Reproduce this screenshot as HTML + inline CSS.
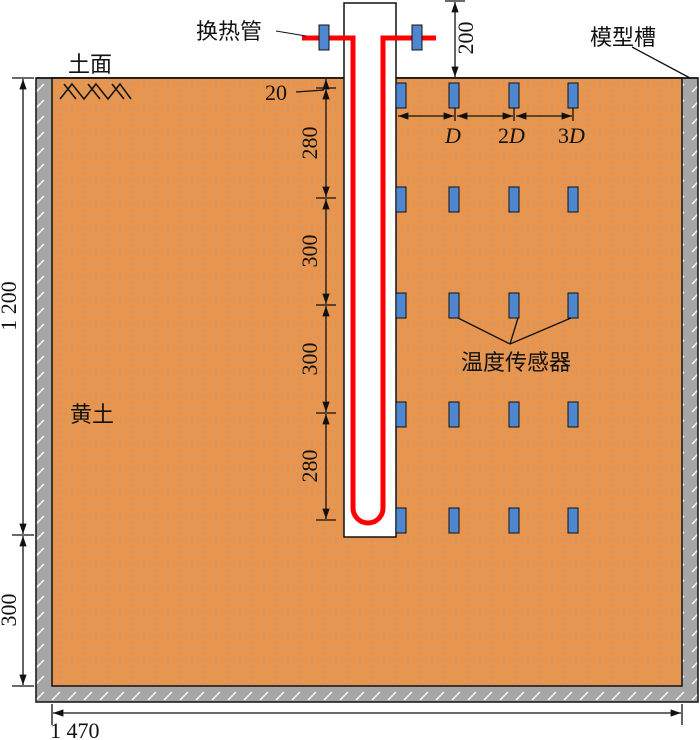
<!DOCTYPE html>
<html><head><meta charset="utf-8"><style>body{margin:0;background:#fff}svg{display:block}text{font-family:"Liberation Serif","Noto Serif CJK SC",serif;fill:#111}.cj{font-family:"Liberation Serif","Noto Sans CJK SC",sans-serif}</style></head><body>
<svg width="700" height="740" viewBox="0 0 700 740" xmlns="http://www.w3.org/2000/svg">
<defs>
<pattern id="dots" width="6" height="6" patternUnits="userSpaceOnUse"><rect width="6" height="6" fill="#E8944C"/><circle cx="3" cy="3" r="0.9" fill="#B8A890"/></pattern>
<pattern id="hatch" width="16" height="16" patternUnits="userSpaceOnUse"><rect width="16" height="16" fill="#A6A6A6"/><path d="M4 12 L12 4" stroke="#fff" stroke-width="1.5"/></pattern>
<marker id="a" viewBox="0 0 10 10" refX="10" refY="5" markerWidth="8" markerHeight="8" orient="auto-start-reverse"><path d="M0 1.5 L10 5 L0 8.5z" fill="#111"/></marker>
</defs>
<rect x="36" y="78" width="662" height="624" fill="url(#hatch)" stroke="#111" stroke-width="1.5"/>
<rect x="52" y="78" width="630" height="608" fill="url(#dots)" stroke="#111" stroke-width="1.5"/>
<line x1="36" y1="78" x2="698" y2="78" stroke="#111" stroke-width="1.5"/>
<rect x="344" y="3" width="52" height="534" fill="#fff" stroke="#111" stroke-width="1.5"/>
<path d="M302 38 H353 V508 A15 15 0 0 0 383 508 V38 H436" fill="none" stroke="#f00" stroke-width="5"/>
<rect x="319" y="25" width="10" height="25" fill="#4F86D0" stroke="#111"/>
<rect x="412" y="25" width="10" height="25" fill="#4F86D0" stroke="#111"/>
<line x1="276" y1="31" x2="306" y2="36" stroke="#111"/>
<text x="196" y="39" class="cj" font-size="22">换热管</text>
<g fill="#4F86D0" stroke="#111">
<rect x="396" y="83" width="10" height="25"/><rect x="449" y="83" width="10" height="25"/><rect x="509" y="83" width="10" height="25"/><rect x="568" y="83" width="10" height="25"/>
<rect x="396" y="187" width="10" height="25"/><rect x="449" y="187" width="10" height="25"/><rect x="509" y="187" width="10" height="25"/><rect x="568" y="187" width="10" height="25"/>
<rect x="396" y="293" width="10" height="25"/><rect x="449" y="293" width="10" height="25"/><rect x="509" y="293" width="10" height="25"/><rect x="568" y="293" width="10" height="25"/>
<rect x="396" y="402" width="10" height="25"/><rect x="449" y="402" width="10" height="25"/><rect x="509" y="402" width="10" height="25"/><rect x="568" y="402" width="10" height="25"/>
<rect x="396" y="508" width="10" height="25"/><rect x="449" y="508" width="10" height="25"/><rect x="509" y="508" width="10" height="25"/><rect x="568" y="508" width="10" height="25"/>
</g>
<g stroke="#111" fill="none" stroke-width="1.3">
<line x1="455" y1="108" x2="455" y2="121"/><line x1="514" y1="108" x2="514" y2="121"/><line x1="573" y1="108" x2="573" y2="121"/>
<line x1="398" y1="116" x2="454" y2="116" marker-start="url(#a)" marker-end="url(#a)"/>
<line x1="457" y1="116" x2="513" y2="116" marker-start="url(#a)" marker-end="url(#a)"/>
<line x1="516" y1="116" x2="572" y2="116" marker-start="url(#a)" marker-end="url(#a)"/>
<line x1="445" y1="1" x2="465" y2="1"/>
<line x1="455" y1="2" x2="455" y2="77" marker-start="url(#a)" marker-end="url(#a)"/>
<line x1="316" y1="88" x2="336" y2="88"/><line x1="316" y1="198" x2="336" y2="198"/><line x1="316" y1="305" x2="336" y2="305"/><line x1="316" y1="413" x2="336" y2="413"/><line x1="316" y1="520" x2="336" y2="520"/>
<line x1="326" y1="79" x2="326" y2="87" marker-start="url(#a)"/>
<line x1="326" y1="89" x2="326" y2="197" marker-start="url(#a)" marker-end="url(#a)"/>
<line x1="326" y1="199" x2="326" y2="304" marker-start="url(#a)" marker-end="url(#a)"/>
<line x1="326" y1="306" x2="326" y2="412" marker-start="url(#a)" marker-end="url(#a)"/>
<line x1="326" y1="414" x2="326" y2="519" marker-start="url(#a)" marker-end="url(#a)"/>
<line x1="296" y1="92" x2="324" y2="90"/>
<line x1="12" y1="78" x2="34" y2="78"/><line x1="12" y1="535" x2="34" y2="535"/><line x1="12" y1="686" x2="34" y2="686"/>
<line x1="23" y1="79" x2="23" y2="534" marker-start="url(#a)" marker-end="url(#a)"/>
<line x1="23" y1="536" x2="23" y2="685" marker-start="url(#a)" marker-end="url(#a)"/>
<line x1="52" y1="704" x2="52" y2="725"/><line x1="682" y1="704" x2="682" y2="725"/>
<line x1="53" y1="713" x2="681" y2="713" marker-start="url(#a)" marker-end="url(#a)"/>
<line x1="458" y1="318" x2="510" y2="344"/><line x1="518" y1="318" x2="510" y2="344"/><line x1="571" y1="318" x2="510" y2="344"/>
<line x1="632" y1="47" x2="690" y2="78"/>
</g>
<path d="M60 99 L72 84 L84 99 L96 84 L108 99 L120 84 L131 99 M64 84 L76 99 M88 84 L100 99 M112 84 L124 99" stroke="#111" stroke-width="1.5" fill="none"/>
<text x="68" y="72" class="cj" font-size="22">土面</text>
<text x="590" y="45" class="cj" font-size="22">模型槽</text>
<text x="461" y="370" class="cj" font-size="22">温度传感器</text>
<text x="70" y="422" class="cj" font-size="22">黄土</text>
<text x="265" y="100" font-size="22">20</text>
<text x="445" y="143" font-size="22" font-style="italic">D</text>
<text x="498" y="143" font-size="22"><tspan>2</tspan><tspan font-style="italic">D</tspan></text>
<text x="558" y="143" font-size="22"><tspan>3</tspan><tspan font-style="italic">D</tspan></text>
<text x="50" y="738" font-size="22">1 470</text>
<g font-size="22">
<text transform="translate(317,143) rotate(-90)" text-anchor="middle">280</text>
<text transform="translate(317,251) rotate(-90)" text-anchor="middle">300</text>
<text transform="translate(317,359) rotate(-90)" text-anchor="middle">300</text>
<text transform="translate(317,466) rotate(-90)" text-anchor="middle">280</text>
<text transform="translate(473,38) rotate(-90)" text-anchor="middle">200</text>
<text transform="translate(16,306) rotate(-90)" text-anchor="middle">1 200</text>
<text transform="translate(16,610) rotate(-90)" text-anchor="middle">300</text>
</g>
</svg>
</body></html>
